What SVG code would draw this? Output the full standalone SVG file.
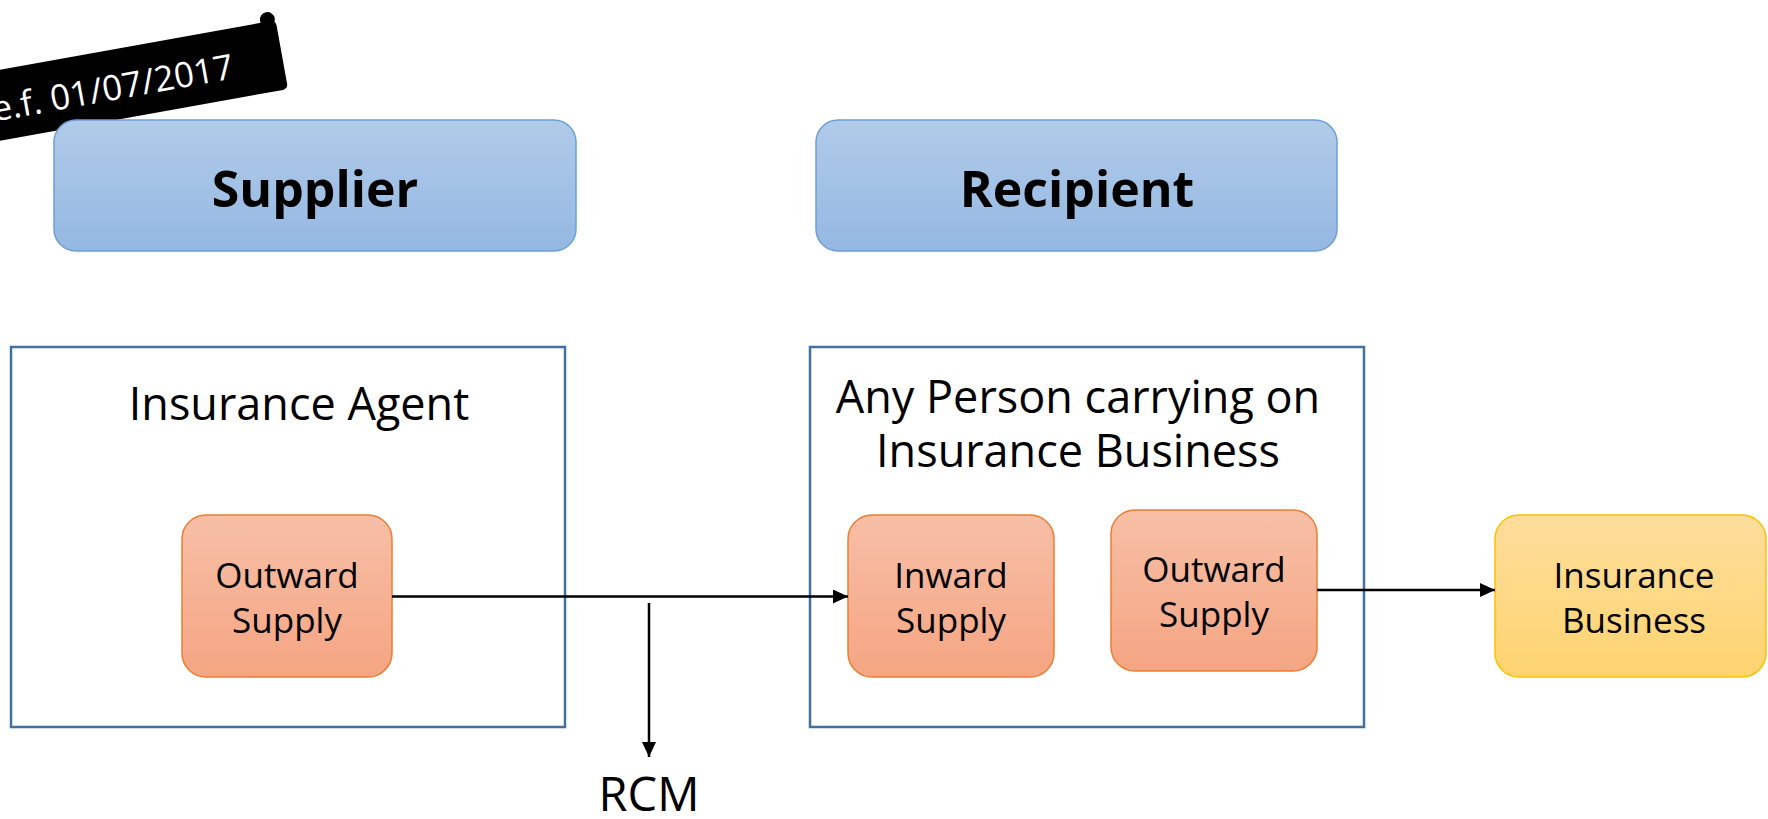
<svg xmlns="http://www.w3.org/2000/svg" width="1768" height="819" viewBox="0 0 1768 819">
  <defs>
    <linearGradient id="gBlue" x1="0" y1="0" x2="0" y2="1">
      <stop offset="0" stop-color="#b1cbe9"/>
      <stop offset="1" stop-color="#94b8e2"/>
    </linearGradient>
    <linearGradient id="gOrange" x1="0" y1="0" x2="0" y2="1">
      <stop offset="0" stop-color="#f7bfa7"/>
      <stop offset="1" stop-color="#f5a582"/>
    </linearGradient>
    <linearGradient id="gYellow" x1="0" y1="0" x2="0" y2="1">
      <stop offset="0" stop-color="#fedd9c"/>
      <stop offset="1" stop-color="#fed470"/>
    </linearGradient>
    <marker id="arrow" markerUnits="userSpaceOnUse" markerWidth="16" markerHeight="14" refX="15" refY="7" orient="auto">
      <path d="M0,0 L15,7 L0,14 Z" fill="#000"/>
    </marker>
  </defs>
  <style>
    text { font-family: "Open Sans", "Noto Sans", "DejaVu Sans", sans-serif; fill: #000; text-anchor: middle; }
    .head { fill: url(#gBlue); stroke: #6d9fd6; stroke-width: 1.5; }
    .head-label { font-size: 50px; font-weight: 700; }
    .frame { fill: none; stroke: #41719c; stroke-width: 2.5; }
    .frame-label { font-size: 45px; }
    .orange { fill: url(#gOrange); stroke: #ed7d31; stroke-width: 1.5; }
    .yellow { fill: url(#gYellow); stroke: #ffc000; stroke-width: 1.5; }
    .box-label { font-size: 35px; }
    .conn { stroke: #000; stroke-width: 2.5; fill: none; marker-end: url(#arrow); }
  </style>

  <rect width="1768" height="819" fill="#fff"/>

  <!-- dated banner, tilted scroll -->
  <g id="badge" transform="translate(288,89) rotate(-10.2)">
    <rect x="-380" y="-70" width="380" height="70" rx="5" fill="#000"/>
    <circle cx="-8" cy="-72" r="7.5" fill="#000"/>
    <text x="-50" y="-20" style="font-size:35px;fill:#fff;text-anchor:end">e.f. 01/07/2017</text>
  </g>

  <!-- column headers -->
  <g id="supplier">
    <rect class="head" x="54" y="120" width="522" height="131" rx="22"/>
    <text class="head-label" x="315" y="207">Supplier</text>
  </g>
  <g id="recipient">
    <rect class="head" x="816" y="120" width="521" height="131" rx="22"/>
    <text class="head-label" x="1077" y="207">Recipient</text>
  </g>

  <!-- party frames -->
  <g id="agent">
    <rect class="frame" x="11" y="347" width="554" height="380"/>
    <text class="frame-label" x="299" y="420">Insurance Agent</text>
  </g>
  <g id="insurer">
    <rect class="frame" x="810" y="347" width="554" height="380"/>
    <text class="frame-label" x="1078" y="413">Any Person carrying on</text>
    <text class="frame-label" x="1078" y="467">Insurance Business</text>
  </g>

  <!-- supply boxes -->
  <g id="agent-outward">
    <rect class="orange" x="182" y="515" width="210" height="162" rx="24"/>
    <text class="box-label" x="287" y="588">Outward</text>
    <text class="box-label" x="287" y="633">Supply</text>
  </g>
  <g id="insurer-inward">
    <rect class="orange" x="848" y="515" width="206" height="162" rx="24"/>
    <text class="box-label" x="951" y="588">Inward</text>
    <text class="box-label" x="951" y="633">Supply</text>
  </g>
  <g id="insurer-outward">
    <rect class="orange" x="1111" y="510" width="206" height="161" rx="24"/>
    <text class="box-label" x="1214" y="582">Outward</text>
    <text class="box-label" x="1214" y="627">Supply</text>
  </g>
  <g id="business">
    <rect class="yellow" x="1495" y="515" width="271" height="162" rx="24"/>
    <text class="box-label" x="1634" y="588">Insurance</text>
    <text class="box-label" x="1634" y="633">Business</text>
  </g>

  <!-- connectors -->
  <g id="connectors">
    <line class="conn" x1="392" y1="596.5" x2="848" y2="596.5"/>
    <line class="conn" x1="1317" y1="590" x2="1495" y2="590"/>
    <line class="conn" x1="649" y1="603" x2="649" y2="757"/>
  </g>

  <g id="rcm">
    <text x="649" y="811" style="font-size:47px">RCM</text>
  </g>
</svg>
